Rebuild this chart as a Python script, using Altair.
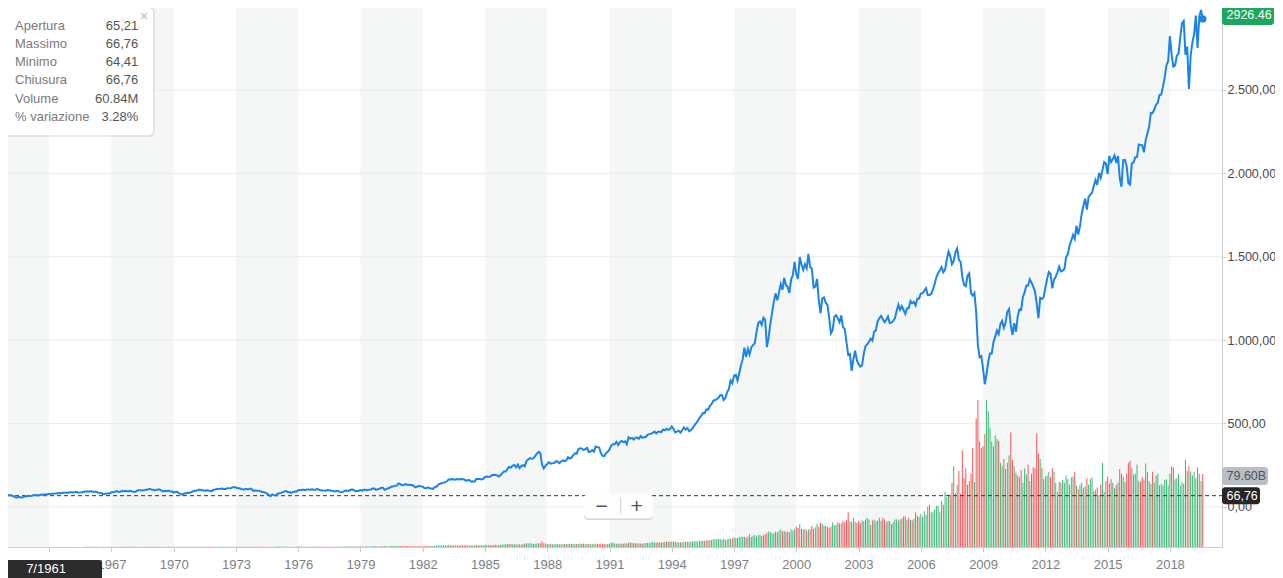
import altair as alt
import pandas as pd

# ---------------- data (monthly closes, S&P 500, Jan 1962 .. Aug 2019) ----------------
close_1960s = [
    68.84, 69.96, 69.55, 65.24, 59.63, 54.75, 58.23, 59.12, 56.27, 56.52, 62.26, 63.10,
    66.20, 64.29, 66.57, 69.80, 70.80, 69.37, 69.13, 72.50, 71.70, 74.01, 73.23, 75.02,
    77.04, 77.80, 78.98, 79.46, 80.37, 81.69, 83.18, 81.83, 84.18, 84.86, 84.42, 84.75,
    87.56, 87.43, 86.16, 89.11, 88.42, 84.12, 85.25, 87.17, 89.96, 92.42, 91.61, 92.43,
    92.88, 91.22, 89.23, 91.06, 86.13, 84.74, 83.60, 77.10, 76.56, 80.20, 80.45, 80.33,
    86.61, 86.78, 90.20, 94.01, 89.08, 90.64, 94.75, 93.64, 96.71, 93.90, 94.00, 96.47,
    92.24, 89.36, 90.20, 97.59, 98.68, 99.58, 97.74, 98.86, 102.67, 103.41, 108.37, 103.86,
    103.01, 98.13, 101.51, 103.69, 103.46, 97.71, 91.83, 95.51, 93.12, 97.24, 93.81, 92.06,
]
close_1970s = [
    85.02, 89.50, 89.63, 81.52, 76.55, 72.72, 78.05, 81.52, 84.21, 83.25, 87.20, 92.15,
    95.88, 96.75, 100.31, 103.95, 99.63, 99.70, 95.58, 99.03, 98.34, 94.23, 93.99, 102.09,
    103.94, 106.57, 107.20, 107.67, 109.53, 107.14, 107.39, 111.09, 110.55, 111.58, 116.67, 118.05,
    116.03, 111.68, 111.52, 106.97, 104.95, 104.26, 108.22, 104.25, 108.43, 108.29, 95.96, 97.55,
    96.57, 96.22, 93.98, 90.31, 87.28, 86.00, 79.31, 72.15, 63.54, 73.90, 69.97, 68.56,
    76.98, 81.59, 83.36, 87.30, 91.15, 95.19, 88.75, 86.88, 83.87, 89.04, 91.24, 90.19,
    100.86, 99.71, 102.77, 101.64, 100.18, 104.28, 103.44, 102.91, 105.24, 102.90, 102.10, 107.46,
    102.03, 99.82, 98.42, 98.44, 96.12, 100.48, 98.85, 96.77, 96.53, 92.34, 94.83, 95.10,
    89.25, 87.04, 89.21, 96.83, 97.24, 95.53, 100.68, 103.29, 102.54, 93.15, 94.70, 96.11,
    99.93, 96.28, 101.59, 101.76, 99.08, 102.91, 103.81, 109.32, 109.32, 101.82, 106.16, 107.94,
]
close_1980s = [
    114.16, 113.66, 102.09, 106.29, 111.24, 114.24, 121.67, 122.38, 125.46, 127.47, 140.52, 135.76,
    129.55, 131.27, 136.00, 132.81, 132.59, 131.21, 130.92, 122.79, 116.18, 121.89, 126.35, 122.55,
    120.40, 113.11, 111.96, 116.44, 111.88, 109.61, 107.09, 119.51, 120.42, 133.71, 138.54, 140.64,
    145.30, 148.06, 152.96, 164.42, 162.39, 168.11, 162.56, 164.40, 166.07, 163.55, 166.40, 164.93,
    163.41, 157.06, 159.18, 160.05, 150.55, 153.18, 150.66, 166.68, 166.10, 166.09, 163.58, 167.24,
    179.63, 181.18, 180.66, 179.83, 189.55, 191.85, 190.92, 188.63, 182.08, 189.82, 202.17, 211.28,
    211.78, 226.92, 238.90, 235.52, 247.35, 250.84, 236.12, 252.93, 231.32, 243.98, 249.22, 242.17,
    274.08, 284.20, 291.70, 288.36, 290.10, 304.00, 318.66, 329.80, 321.83, 251.79, 230.30, 247.08,
    257.07, 267.82, 258.89, 261.33, 262.16, 273.50, 272.02, 261.52, 271.91, 278.97, 273.70, 277.72,
    297.47, 288.86, 294.87, 309.64, 320.52, 317.98, 346.08, 351.45, 349.15, 340.36, 345.99, 353.40,
]
close_1990s = [
    329.08, 331.89, 339.94, 330.80, 361.23, 358.02, 356.15, 322.56, 306.05, 304.00, 322.22, 330.22,
    343.93, 367.07, 375.22, 375.35, 389.83, 371.16, 387.81, 395.43, 387.86, 392.46, 375.22, 417.09,
    408.79, 412.70, 403.69, 414.95, 415.35, 408.14, 424.21, 414.03, 417.80, 418.68, 431.35, 435.71,
    438.78, 443.38, 451.67, 440.19, 450.19, 450.53, 448.13, 463.56, 458.93, 467.83, 461.79, 466.45,
    481.61, 467.14, 445.77, 450.91, 456.50, 444.27, 458.26, 475.49, 462.69, 472.35, 453.69, 459.27,
    470.42, 487.39, 500.71, 514.71, 533.40, 544.75, 562.06, 561.88, 584.41, 581.50, 605.37, 615.93,
    636.02, 640.43, 645.50, 654.17, 669.12, 670.63, 639.95, 651.99, 687.33, 705.27, 757.02, 740.74,
    786.16, 790.82, 757.12, 801.34, 848.28, 885.14, 954.29, 899.47, 947.28, 914.62, 955.40, 970.43,
    980.28, 1049.34, 1101.75, 1111.75, 1090.82, 1133.84, 1120.67, 957.28, 1017.01, 1098.67, 1163.63, 1229.23,
    1279.64, 1238.33, 1286.37, 1335.18, 1301.84, 1372.71, 1328.72, 1320.41, 1282.71, 1362.93, 1388.91, 1469.25,
]
close_2000s = [
    1394.46, 1366.42, 1498.58, 1452.43, 1420.60, 1454.60, 1430.83, 1517.68, 1436.51, 1429.40, 1314.95, 1320.28,
    1366.01, 1239.94, 1160.33, 1249.46, 1255.82, 1224.38, 1211.23, 1133.58, 1040.94, 1059.78, 1139.45, 1148.08,
    1130.20, 1106.73, 1147.39, 1076.92, 1067.14, 989.82, 911.62, 916.07, 815.28, 885.76, 936.31, 879.82,
    855.70, 841.15, 848.18, 916.92, 963.59, 974.50, 990.31, 1008.01, 995.97, 1050.71, 1058.20, 1111.92,
    1131.13, 1144.94, 1126.21, 1107.30, 1120.68, 1140.84, 1101.72, 1104.24, 1114.58, 1130.20, 1173.82, 1211.92,
    1181.27, 1203.60, 1180.59, 1156.85, 1191.50, 1191.33, 1234.18, 1220.33, 1228.81, 1207.01, 1249.48, 1248.29,
    1280.08, 1280.66, 1294.87, 1310.61, 1270.09, 1270.20, 1276.66, 1303.82, 1335.85, 1377.94, 1400.63, 1418.30,
    1438.24, 1406.82, 1420.86, 1482.37, 1530.62, 1503.35, 1455.27, 1473.99, 1526.75, 1549.38, 1481.14, 1468.36,
    1378.55, 1330.63, 1322.70, 1385.59, 1400.38, 1280.00, 1267.38, 1282.83, 1166.36, 968.75, 896.24, 903.25,
    825.88, 735.09, 797.87, 872.81, 919.14, 919.32, 987.48, 1020.62, 1057.08, 1036.19, 1095.63, 1115.10,
]
close_2010s = [
    1073.87, 1104.49, 1169.43, 1186.69, 1089.41, 1030.71, 1101.60, 1049.33, 1141.20, 1183.26, 1180.55, 1257.64,
    1286.12, 1327.22, 1325.83, 1363.61, 1345.20, 1320.64, 1292.28, 1218.89, 1131.42, 1253.30, 1246.96, 1257.60,
    1312.41, 1365.68, 1408.47, 1397.91, 1310.33, 1362.16, 1379.32, 1406.58, 1440.67, 1412.16, 1416.18, 1426.19,
    1498.11, 1514.68, 1569.19, 1597.57, 1630.74, 1606.28, 1685.73, 1632.97, 1681.55, 1756.54, 1805.81, 1848.36,
    1782.59, 1859.45, 1872.34, 1883.95, 1923.57, 1960.23, 1930.67, 2003.37, 1972.29, 2018.05, 2067.56, 2058.90,
    1994.99, 2104.50, 2067.89, 2085.51, 2107.39, 2063.11, 2103.84, 1972.18, 1920.03, 2079.36, 2080.41, 2043.94,
    1940.24, 1932.23, 2059.74, 2065.30, 2096.95, 2098.86, 2173.60, 2170.95, 2168.27, 2126.15, 2198.81, 2238.83,
    2278.87, 2363.64, 2362.72, 2384.20, 2411.80, 2423.41, 2470.30, 2471.65, 2519.36, 2575.26, 2647.58, 2673.61,
    2823.81, 2713.83, 2640.87, 2648.05, 2705.27, 2718.37, 2816.29, 2901.52, 2913.98, 2711.74, 2760.17, 2506.85,
    2704.10, 2784.49, 2834.40, 2945.83, 2752.06, 2941.76, 2980.38, 2926.46,
]

# monthly volume, billions
vol_1960s = [
    0.07, 0.06, 0.06, 0.06, 0.09, 0.08, 0.06, 0.07, 0.06, 0.07, 0.09, 0.07,
    0.09, 0.08, 0.08, 0.10, 0.10, 0.08, 0.08, 0.09, 0.10, 0.11, 0.10, 0.09,
    0.10, 0.10, 0.11, 0.11, 0.10, 0.09, 0.10, 0.09, 0.10, 0.10, 0.10, 0.10,
    0.12, 0.11, 0.12, 0.13, 0.13, 0.14, 0.10, 0.11, 0.13, 0.14, 0.15, 0.16,
    0.16, 0.16, 0.16, 0.17, 0.16, 0.13, 0.12, 0.14, 0.13, 0.14, 0.14, 0.15,
    0.19, 0.19, 0.19, 0.18, 0.20, 0.22, 0.22, 0.21, 0.22, 0.22, 0.21, 0.22,
    0.22, 0.20, 0.20, 0.28, 0.28, 0.26, 0.26, 0.22, 0.27, 0.29, 0.30, 0.28,
    0.24, 0.23, 0.22, 0.24, 0.25, 0.21, 0.20, 0.20, 0.22, 0.27, 0.22, 0.25,
]
vol_1970s = [
    0.22, 0.24, 0.23, 0.24, 0.26, 0.22, 0.22, 0.27, 0.33, 0.26, 0.27, 0.30,
    0.36, 0.34, 0.35, 0.34, 0.30, 0.28, 0.27, 0.33, 0.29, 0.30, 0.32, 0.39,
    0.36, 0.35, 0.37, 0.33, 0.33, 0.30, 0.30, 0.33, 0.29, 0.33, 0.40, 0.36,
    0.36, 0.34, 0.33, 0.29, 0.33, 0.28, 0.30, 0.27, 0.36, 0.38, 0.38, 0.38,
    0.30, 0.29, 0.29, 0.27, 0.26, 0.27, 0.26, 0.30, 0.30, 0.37, 0.30, 0.30,
    0.44, 0.44, 0.42, 0.40, 0.41, 0.42, 0.38, 0.30, 0.30, 0.34, 0.34, 0.31,
    0.55, 0.52, 0.45, 0.40, 0.39, 0.42, 0.40, 0.38, 0.44, 0.37, 0.41, 0.48,
    0.45, 0.38, 0.38, 0.40, 0.38, 0.44, 0.40, 0.38, 0.37, 0.40, 0.44, 0.42,
    0.38, 0.36, 0.42, 0.58, 0.62, 0.52, 0.50, 0.72, 0.60, 0.68, 0.55, 0.52,
    0.64, 0.54, 0.60, 0.65, 0.64, 0.64, 0.62, 0.80, 0.80, 0.75, 0.67, 0.68,
]
vol_1980s = [
    1.00, 0.95, 0.83, 0.74, 0.76, 0.86, 1.00, 1.00, 1.10, 1.05, 1.00, 0.98,
    1.00, 0.82, 0.98, 0.97, 0.90, 0.92, 0.80, 0.82, 0.93, 0.95, 0.90, 0.90,
    0.95, 0.90, 1.05, 1.00, 0.97, 0.90, 1.05, 1.60, 1.60, 1.95, 1.70, 1.60,
    1.90, 1.80, 1.80, 1.95, 1.90, 1.80, 1.70, 1.60, 1.70, 1.85, 1.85, 1.80,
    2.00, 1.80, 1.70, 1.70, 1.80, 1.60, 1.70, 2.50, 1.90, 1.90, 1.90, 2.00,
    2.40, 2.30, 2.00, 2.00, 2.30, 2.20, 2.40, 2.00, 2.10, 2.40, 2.70, 2.90,
    2.90, 3.00, 3.20, 3.20, 2.90, 3.00, 2.90, 2.80, 3.10, 2.80, 3.10, 3.50,
    4.00, 3.90, 4.00, 3.80, 3.40, 3.60, 3.80, 4.20, 3.90, 6.40, 4.00, 3.80,
    3.30, 3.30, 3.50, 3.00, 2.90, 3.60, 3.00, 3.10, 3.00, 3.10, 3.30, 3.20,
    3.40, 3.20, 3.50, 3.10, 3.50, 3.40, 3.20, 3.90, 3.20, 3.90, 3.30, 3.40,
]
vol_1990s = [
    3.6, 3.0, 3.3, 3.0, 3.7, 3.3, 3.6, 3.7, 3.0, 3.4, 3.1, 3.2,
    3.6, 4.5, 4.5, 3.9, 3.6, 3.5, 3.5, 3.5, 3.5, 4.0, 3.9, 4.6,
    5.0, 4.6, 4.1, 4.3, 3.5, 4.0, 3.9, 3.6, 4.1, 4.3, 4.4, 4.4,
    5.0, 5.4, 5.0, 4.8, 4.9, 5.2, 4.8, 4.9, 5.4, 5.9, 5.6, 5.7,
    6.1, 5.6, 6.0, 5.2, 5.1, 5.1, 5.0, 5.6, 5.6, 5.7, 5.7, 5.7,
    6.3, 6.0, 6.6, 5.8, 6.9, 6.9, 6.8, 6.9, 7.0, 7.5, 7.2, 7.6,
    8.5, 8.1, 8.4, 8.8, 8.6, 8.0, 8.6, 7.5, 8.4, 8.9, 9.1, 9.6,
    10.5, 9.9, 9.8, 10.8, 10.5, 11.2, 10.9, 10.2, 11.1, 14.0, 11.0, 12.4,
    13.0, 11.5, 13.2, 13.0, 11.9, 13.4, 13.9, 15.6, 16.8, 16.3, 14.6, 15.4,
    17.0, 16.0, 17.7, 18.8, 16.9, 17.5, 16.6, 16.7, 16.2, 19.0, 18.1, 19.4,
]
vol_2000s = [
    22.0, 20.8, 24.9, 20.0, 19.2, 19.6, 18.2, 19.0, 19.4, 23.0, 20.0, 21.5,
    25.0, 22.0, 26.5, 25.0, 23.5, 23.0, 22.2, 20.9, 21.7, 26.6, 24.0, 24.0,
    27.0, 25.5, 26.0, 28.5, 27.0, 29.5, 38.0, 28.0, 27.5, 32.0, 27.5, 26.5,
    28.0, 26.0, 29.0, 28.0, 30.0, 32.0, 30.0, 24.0, 29.0, 30.0, 28.0, 29.0,
    32.0, 29.0, 32.0, 30.0, 27.0, 28.5, 28.0, 25.0, 27.0, 30.0, 30.0, 29.0,
    30.0, 31.0, 33.0, 33.5, 30.0, 32.0, 29.5, 29.0, 31.0, 38.0, 34.0, 33.0,
    36.0, 33.0, 39.0, 35.0, 44.0, 46.0, 38.0, 38.0, 41.0, 45.0, 45.0, 38.0,
    50.0, 46.0, 60.0, 54.0, 57.0, 57.0, 70.0, 88.0, 59.0, 68.0, 83.0, 58.0,
    105.0, 75.0, 86.0, 68.0, 72.0, 80.0, 108.0, 71.0, 140.0, 160.0, 115.0, 108.0,
    110.0, 123.0, 160.0, 148.0, 130.0, 115.0, 110.0, 122.0, 118.0, 116.0, 92.0, 88.0,
]
vol_2010s = [
    96.0, 85.0, 92.0, 100.0, 125.0, 95.0, 88.0, 81.0, 78.0, 76.0, 84.0, 70.0,
    86.0, 79.0, 90.0, 72.0, 80.0, 87.0, 86.0, 124.0, 102.0, 96.0, 86.0, 74.0,
    77.0, 78.0, 82.0, 76.0, 86.0, 82.0, 70.0, 60.0, 71.0, 70.0, 73.0, 70.0,
    78.0, 74.0, 68.0, 76.0, 77.0, 82.0, 67.0, 63.0, 68.0, 70.0, 65.0, 66.0,
    75.0, 68.0, 74.0, 76.0, 61.0, 62.0, 65.0, 57.0, 68.0, 92.0, 60.0, 72.0,
    77.0, 69.0, 74.0, 70.0, 64.0, 68.0, 70.0, 85.0, 80.0, 77.0, 71.0, 80.0,
    92.0, 94.0, 86.0, 79.0, 80.0, 90.0, 72.0, 71.0, 76.0, 74.0, 91.0, 82.0,
    72.0, 69.0, 82.0, 70.0, 78.0, 80.0, 67.0, 69.0, 67.0, 73.0, 74.0, 67.0,
    80.0, 88.0, 87.0, 74.0, 75.0, 80.0, 67.0, 71.0, 69.0, 95.0, 83.0, 88.0,
    82.0, 78.0, 82.0, 75.0, 87.0, 80.0, 72.0, 79.6,
]

FIRST_YEAR = 1962
TICK_YEARS = [1964, 1967, 1970, 1973, 1976, 1979, 1982, 1985, 1988, 1991,
              1994, 1997, 2000, 2003, 2006, 2009, 2012, 2015, 2018]
BAND_START = [1961, 1967, 1973, 1979, 1985, 1991, 1997, 2003, 2009, 2015]
BAND_END = [1964, 1970, 1976, 1982, 1988, 1994, 2000, 2006, 2012, 2018]
GRID_VALUES = [0, 500, 1000, 1500, 2000, 2500]
PREV_CLOSE = 71.55           # Dec 1961
REF_PRICE = 66.76            # crosshair price
LAST_PRICE = 2926.46
LAST_VOLUME = 79.6

TIP_LABELS = ["Apertura", "Massimo", "Minimo", "Chiusura", "Volume", "% variazione"]
TIP_VALUES = ["65,21", "66,76", "64,41", "66,76", "60.84M", "3.28%"]
CROSS_DATE = "7/1961"

# ---------------- frames ----------------
closes = close_1960s + close_1970s + close_1980s + close_1990s + close_2000s + close_2010s
vols = vol_1960s + vol_1970s + vol_1980s + vol_1990s + vol_2000s + vol_2010s
assert len(closes) == len(vols), (len(closes), len(vols))

prev = [PREV_CLOSE] + closes[:-1]
df = pd.DataFrame({
    "t": [FIRST_YEAR + i / 12 for i in range(len(closes))],
    "close": closes,
    "vol": vols,
    "dir": ["up" if c >= p else "down" for c, p in zip(closes, prev)],
})
bands = pd.DataFrame({"start": BAND_START, "end": BAND_END})
grid = pd.DataFrame({"g": GRID_VALUES})
one = pd.DataFrame({"a": [0]})

# ---------------- style ----------------
W, H = 1214, 539
FONT = "Liberation Sans, Helvetica, Arial, sans-serif"
BLUE = "#1B84E7"
GREEN = "#3CB878"
RED = "#FF5257"
BAND = "#F5F7F7"

xs = alt.Scale(domain=[1962.259, 2020.27], nice=False, zero=False)
ps = alt.Scale(domain=[-241.1, 2991.8], nice=False, zero=False)
vs = alt.Scale(domain=[0, 587.8], nice=False, zero=False)

xaxis = alt.Axis(values=TICK_YEARS, format="d", title=None, grid=False,
                 tickSize=5, tickColor="#CCCCCC", domainColor="#CCCCCC",
                 labelFontSize=13, labelColor="#7B7F84", labelPadding=6,
                 labelFont=FONT, labelFlush=False, labelOverlap=False)
yaxis = alt.Axis(orient="right", values=GRID_VALUES, title=None, grid=False,
                 tickSize=4, tickColor="#CCCCCC", domainColor="#CCCCCC",
                 labelFontSize=12.5, labelColor="#464A4F", labelPadding=1,
                 labelFont=FONT, labelOverlap=False, labelFlush=False,
                 labelExpr="replace(replace(replace(format(datum.value, ',.2f'), ',', '#'), '.', ','), '#', '.')")


def X(field):
    return alt.X(f"{field}:Q", scale=xs, axis=xaxis)


def P(field, axis=None):
    return alt.Y(f"{field}:Q", scale=ps, axis=axis)


band_layer = alt.Chart(bands).mark_rect(color=BAND).encode(
    x=X("start"), x2="end:Q", y=alt.value(0), y2=alt.value(H))

grid_layer = alt.Chart(grid).mark_rule(color="#EBEBEB", strokeWidth=1).encode(
    y=P("g"), x=alt.value(0), x2=alt.value(W))

vol_layer = alt.Chart(df).mark_bar(size=1, orient="vertical").encode(
    x=X("t"),
    y=alt.Y("vol:Q", scale=vs, axis=None, stack=None),
    color=alt.Color("dir:N", scale=alt.Scale(domain=["up", "down"], range=[GREEN, RED]), legend=None))

ref_df = pd.DataFrame({"v": [REF_PRICE]})
dash_layer = alt.Chart(ref_df).mark_rule(color="#333333", strokeDash=[4, 3], strokeWidth=1).encode(
    y=P("v"), x=alt.value(0), x2=alt.value(W))

line_layer = alt.Chart(df).mark_line(color=BLUE, strokeWidth=2).encode(
    x=X("t"), y=P("close", yaxis))

dot_layer = alt.Chart(df.tail(1)).mark_point(filled=True, size=55, color=BLUE, opacity=1).encode(
    x=X("t"), y=P("close"))

# right-hand value tags
last_df = pd.DataFrame({"v": [LAST_PRICE], "txt": [f"{LAST_PRICE:.2f}"]})
tag_last_box = alt.Chart(last_df).mark_rect(color="#1DA65D", cornerRadius=3, yOffset=-13, y2Offset=6).encode(
    x=alt.value(W), x2=alt.value(W + 52), y=P("v"), y2="v:Q")
tag_last_txt = alt.Chart(last_df).mark_text(align="left", baseline="middle", color="white",
                                            fontSize=12.5, font=FONT, dy=-3.5).encode(
    x=alt.value(W + 4.5), y=P("v"), text="txt:N")

vol_tag_df = pd.DataFrame({"v": [LAST_VOLUME], "txt": [f"{LAST_VOLUME:.2f}B"]})
tag_vol_box = alt.Chart(vol_tag_df).mark_rect(color="#B9BEC5", cornerRadius=3, yOffset=-7, y2Offset=11).encode(
    x=alt.value(W), x2=alt.value(W + 46),
    y=alt.Y("v:Q", scale=vs, axis=None), y2="v:Q")
tag_vol_txt = alt.Chart(vol_tag_df).mark_text(align="left", baseline="middle", color="#50555C",
                                              fontSize=12.5, font=FONT, dy=2).encode(
    x=alt.value(W + 4.5), y=alt.Y("v:Q", scale=vs, axis=None), text="txt:N")

ref_tag_df = pd.DataFrame({"v": [REF_PRICE], "txt": [f"{REF_PRICE:.2f}".replace(".", ",")]})
tag_ref_box = alt.Chart(ref_tag_df).mark_rect(color="#262626", cornerRadius=3, yOffset=-8.4, y2Offset=8.6).encode(
    x=alt.value(W), x2=alt.value(W + 38), y=P("v"), y2="v:Q")
tag_ref_txt = alt.Chart(ref_tag_df).mark_text(align="left", baseline="middle", color="white",
                                              fontSize=12.5, font=FONT).encode(
    x=alt.value(W + 4.5), y=P("v"), text="txt:N")

# tooltip panel
tip = pd.DataFrame({"row": list(range(len(TIP_LABELS))), "lab": TIP_LABELS, "val": TIP_VALUES})
row_y = alt.Y("row:Q", scale=alt.Scale(domain=[0, 5], range=[17.7, 108.7]), axis=None)
tip_shadow = alt.Chart(one).mark_rect(color="#000000", opacity=0.07, cornerRadius=5).encode(
    x=alt.value(-8), x2=alt.value(147), y=alt.value(-1), y2=alt.value(129))
tip_box = alt.Chart(one).mark_rect(color="white", cornerRadius=4).encode(
    x=alt.value(-8), x2=alt.value(145), y=alt.value(0), y2=alt.value(127))
tip_lab = alt.Chart(tip).mark_text(align="left", baseline="middle", color="#7A7A7A",
                                   fontSize=13, font=FONT).encode(
    x=alt.value(7), y=row_y, text="lab:N")
tip_val = alt.Chart(tip).mark_text(align="right", baseline="middle", color="#555555",
                                   fontSize=13, font=FONT).encode(
    x=alt.value(130.3), y=row_y, text="val:N")
tip_close = alt.Chart(one).mark_text(text="×", color="#BBBBBB", fontSize=14, font=FONT,
                                     align="center", baseline="middle").encode(
    x=alt.value(136), y=alt.value(8.7))

# crosshair date tag
date_box = alt.Chart(one).mark_rect(color="#2C2C2C", cornerRadius=3).encode(
    x=alt.value(-8), x2=alt.value(94), y=alt.value(552), y2=alt.value(575))
date_txt = alt.Chart(one).mark_text(text=CROSS_DATE, color="white", fontSize=13, font=FONT,
                                    align="center", baseline="middle").encode(
    x=alt.value(38), y=alt.value(561))

# zoom control
zoom_shadow = alt.Chart(one).mark_rect(color="#D5D5D5", cornerRadius=4).encode(
    x=alt.value(576), x2=alt.value(645), y=alt.value(487), y2=alt.value(512))
zoom_box = alt.Chart(one).mark_rect(color="#FDFDFD", cornerRadius=4).encode(
    x=alt.value(576), x2=alt.value(645), y=alt.value(486), y2=alt.value(510.5))
zoom_div = alt.Chart(one).mark_rule(color="#CFCFCF").encode(
    x=alt.value(612.7), y=alt.value(490), y2=alt.value(506))
zoom_minus = alt.Chart(one).mark_text(text="\u2212", color="#555555", fontSize=21, font=FONT,
                                      align="center", baseline="middle").encode(
    x=alt.value(593.7), y=alt.value(498.7))
zoom_plus = alt.Chart(one).mark_text(text="+", color="#555555", fontSize=21, font=FONT,
                                     align="center", baseline="middle").encode(
    x=alt.value(628.7), y=alt.value(498.7))

chart = alt.layer(
    band_layer, grid_layer, vol_layer, dash_layer, line_layer, dot_layer,
    tag_vol_box, tag_vol_txt, tag_ref_box, tag_ref_txt, tag_last_box, tag_last_txt,
    tip_shadow, tip_box, tip_lab, tip_val, tip_close,
    date_box, date_txt,
    zoom_shadow, zoom_box, zoom_div, zoom_minus, zoom_plus,
).resolve_scale(y="independent").properties(
    width=W, height=H,
    autosize=alt.AutoSizeParams(type="none"),
    padding={"left": 0, "top": 0, "right": 53, "bottom": 31},
    background="white",
).configure_view(stroke=None)

chart.save("out.html", embed_options={"renderer": "svg", "actions": False})
